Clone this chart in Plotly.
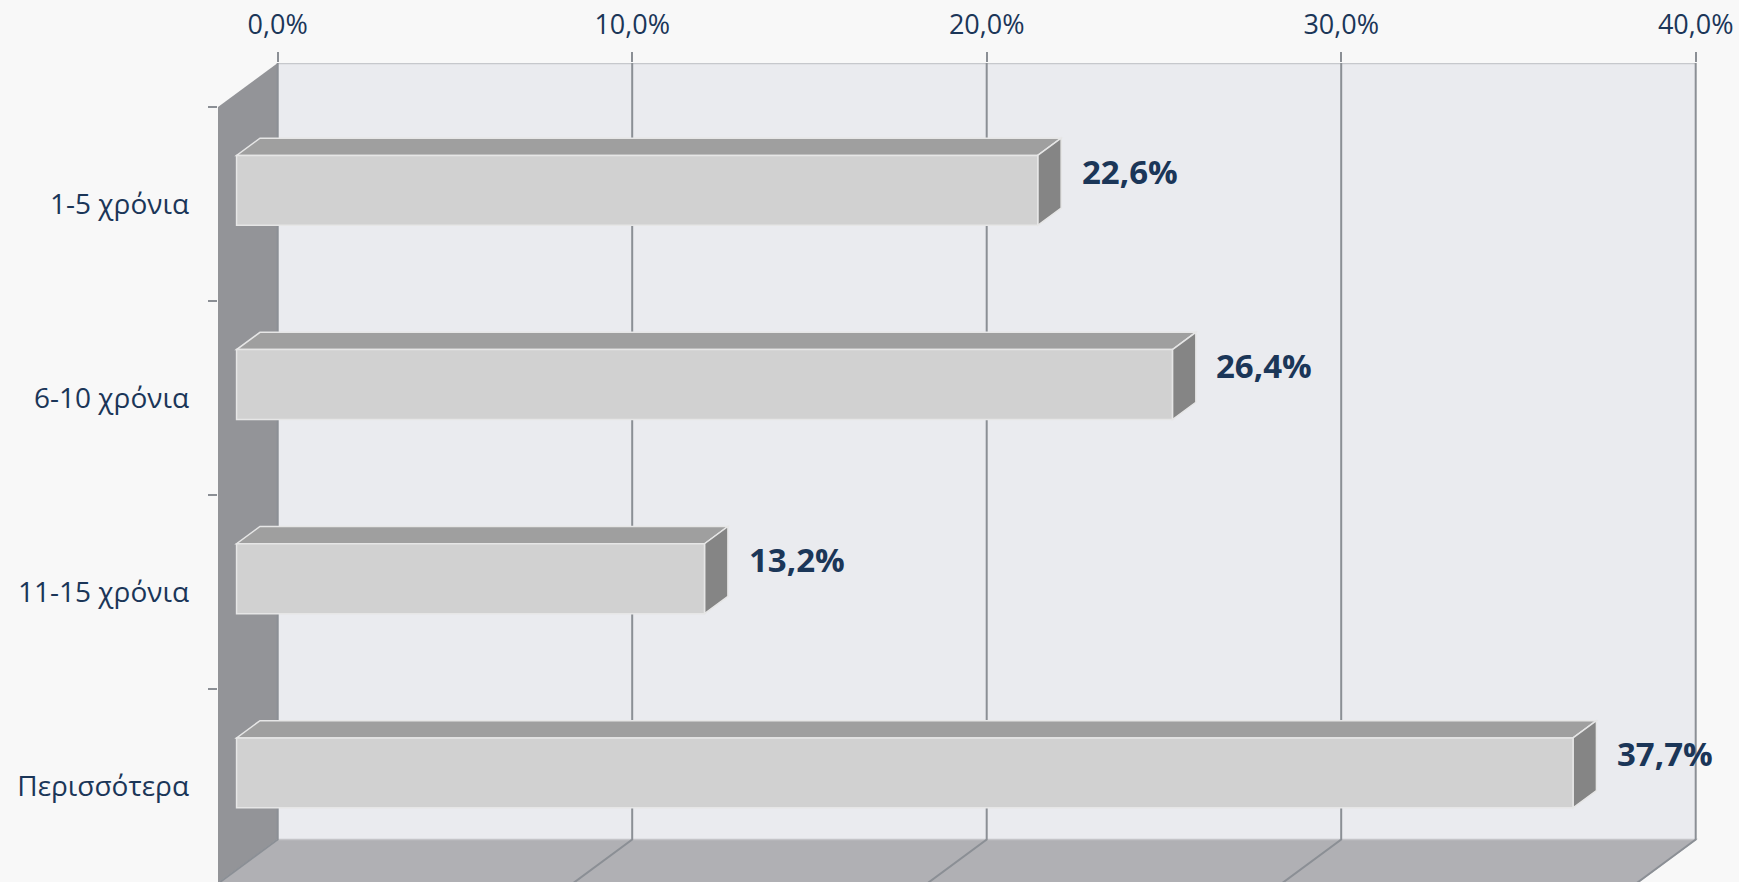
import plotly.graph_objects as go

# ---- data ----
categories = ["1-5 χρόνια", "6-10 χρόνια", "11-15 χρόνια", "Περισσότερα"]
values = [22.6, 26.4, 13.2, 37.7]
tick_values = [0, 10, 20, 30, 40]
tick_labels = ["0,0%", "10,0%", "20,0%", "30,0%", "40,0%"]

# ---- geometry (pixels) ----
W, H = 1739, 882
L, T = 218, 63            # plot area left / top
PCT_PX = 35.45            # pixels per 1 %
CAT_PX = 194.15           # pixels per category band
DEPTH_DX_PX = 59.7        # oblique depth shift (front plane moves left)
DEPTH_DY_PX = 44.0        # oblique depth shift (front plane moves down)

DXU = DEPTH_DX_PX / PCT_PX
DYU = DEPTH_DY_PX / CAT_PX
x_range = [-DXU, (W - L) / PCT_PX - DXU]
y_top = -0.5 - DYU
y_bottom = y_top + (H - T) / CAT_PX

# bar geometry in category units / depth fraction
BAR_HALF = 0.18
D_BACK, D_FRONT = 0.297, 0.689

C_BG = "#F8F8F8"
C_BACKWALL = "#EAEBEF"
C_SIDEWALL = "#939498"
C_FLOOR = "#B0B0B4"
C_GRID = "#8B8F95"
C_FRONT = "#D1D1D1"
C_TOP = "#9F9F9F"
C_SIDE = "#858585"
C_EDGE = "#E6E6E6"
C_TEXT = "#1B3658"


def proj(x, y, d):
    """oblique projection: d=0 back wall, d=1 front plane"""
    return x - d * DXU, y - (1 - d) * DYU


def poly(points):
    pts = [proj(*p) for p in points]
    return "M " + " L ".join(f"{px:.5f},{py:.5f}" for px, py in pts) + " Z"


shapes = []
xmin, xmax = tick_values[0], tick_values[-1]
ymin, ymax = -0.5, len(categories) - 0.5

# back wall
shapes.append(dict(type="path", xref="x", yref="y", layer="below",
                   path=poly([(xmin, ymin, 0), (xmax, ymin, 0), (xmax, ymax, 0), (xmin, ymax, 0)]),
                   fillcolor=C_BACKWALL, line=dict(width=0)))
# top edge of back wall
x0p, y0p = proj(xmin, ymin, 0)
x1p, y1p = proj(xmax, ymin, 0)
shapes.append(dict(type="line", xref="x", yref="y", layer="below",
                   x0=x0p, y0=y0p, x1=x1p, y1=y1p, line=dict(color="#C6C8CC", width=2.5)))
# left wall
shapes.append(dict(type="path", xref="x", yref="y", layer="below",
                   path=poly([(xmin, ymin, 0), (xmin, ymin, 1), (xmin, ymax + 0.2, 1), (xmin, ymax + 0.2, 0)]),
                   fillcolor=C_SIDEWALL, line=dict(width=0)))
# floor
shapes.append(dict(type="path", xref="x", yref="y", layer="below",
                   path=poly([(xmin, ymax, 0), (xmax, ymax, 0), (xmax, ymax, 1), (xmin, ymax, 1)]),
                   fillcolor=C_FLOOR, line=dict(color="#C4C4C8", width=1.5)))
# gridlines: vertical on the back wall, diagonal on the floor
for g in tick_values:
    ax_, ay_ = proj(g, ymin, 0)
    bx_, by_ = proj(g, ymax, 0)
    cx_, cy_ = proj(g, ymax, 1)
    shapes.append(dict(type="path", xref="x", yref="y", layer="below",
                       path=f"M {ax_:.5f},{ay_:.5f} L {bx_:.5f},{by_:.5f} L {cx_:.5f},{cy_:.5f}",
                       line=dict(color=C_GRID, width=2)))

# bars
annotations = []
for i, v in enumerate(values):
    yt, yb = i - BAR_HALF, i + BAR_HALF
    # top face
    shapes.append(dict(type="path", xref="x", yref="y", layer="below",
                       path=poly([(0, yt, D_BACK), (v, yt, D_BACK), (v, yt, D_FRONT), (0, yt, D_FRONT)]),
                       fillcolor=C_TOP, line=dict(color=C_EDGE, width=1.5)))
    # right face
    shapes.append(dict(type="path", xref="x", yref="y", layer="below",
                       path=poly([(v, yt, D_FRONT), (v, yt, D_BACK), (v, yb, D_BACK), (v, yb, D_FRONT)]),
                       fillcolor=C_SIDE, line=dict(color=C_EDGE, width=1.5)))
    # front face
    shapes.append(dict(type="path", xref="x", yref="y", layer="below",
                       path=poly([(0, yt, D_FRONT), (v, yt, D_FRONT), (v, yb, D_FRONT), (0, yb, D_FRONT)]),
                       fillcolor=C_FRONT, line=dict(color=C_EDGE, width=1.5)))
    fx, fy = proj(v, i, D_FRONT)
    annotations.append(dict(
        x=fx + 92 / PCT_PX, y=fy - 19 / CAT_PX, xref="x", yref="y",
        text=f"{v:.1f}".replace(".", ",") + "%", showarrow=False,
        xanchor="center", yanchor="middle",
        font=dict(family="Open Sans", size=33, color=C_TEXT, weight="bold")))

fig = go.Figure()
fig.add_trace(go.Scatter(x=values, y=categories, mode="markers",
                         marker=dict(opacity=0), hoverinfo="skip", showlegend=False))

fig.update_layout(
    width=W, height=H,
    margin=dict(l=L, r=0, t=T, b=0, pad=0),
    paper_bgcolor=C_BG, plot_bgcolor=C_BG,
    shapes=shapes, annotations=annotations,
    showlegend=False, hovermode=False,
    xaxis=dict(range=x_range, side="top", tickvals=tick_values, ticktext=tick_labels,
               showgrid=False, zeroline=False, showline=False,
               ticks="outside", ticklen=10, tickwidth=2, tickcolor=C_GRID,
               ticklabelstandoff=7,
               tickfont=dict(family="Open Sans", size=27, color=C_TEXT)),
    yaxis=dict(type="category", categoryorder="array", categoryarray=categories,
               range=[y_bottom, y_top], tickson="boundaries",
               showgrid=False, zeroline=False, showline=False,
               ticks="outside", ticklen=9, tickwidth=2, tickcolor=C_GRID,
               ticklabelstandoff=28,
               tickfont=dict(family="Open Sans", size=28, color=C_TEXT)),
)

fig.write_html(
    "out.html",
    config={"displayModeBar": False, "staticPlot": True},
    post_script="document.body.style.margin='0';document.body.style.background='%s';" % C_BG,
)
